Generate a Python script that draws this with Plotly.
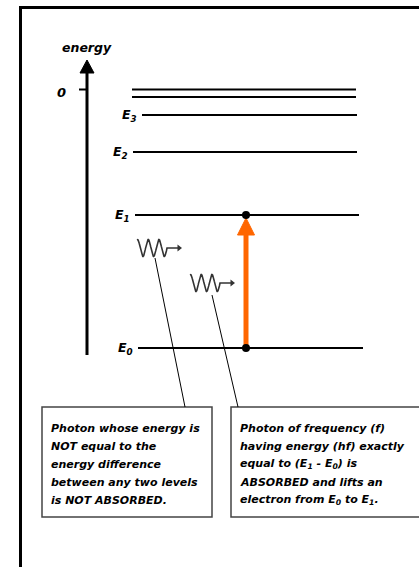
import numpy as np
import plotly.graph_objects as go

W, H = 419, 567

# ---- data (arbitrary energy units, increasing upward) ----
level_names = ["E<sub>0</sub>", "E<sub>1</sub>", "E<sub>2</sub>", "E<sub>3</sub>", "", ""]
level_energy = [219, 352, 415, 452, 470, 477.5]
level_x_start = [138, 135, 133, 142, 132, 132]
level_x_end = [363, 359, 357, 357, 356, 356]
zero_energy = 477.5
axis_bottom, axis_top = 212, 507
axis_x = 87

box_texts = [
    ["Photon whose energy is", "NOT equal to the", "energy difference",
     "between any two levels", "is NOT ABSORBED."],
    ["Photon of frequency (f)", "having energy (hf) exactly",
     "equal to (E<sub>1</sub> - E<sub>0</sub>) is", "ABSORBED and lifts an",
     "electron from E<sub>0</sub> to E<sub>1</sub>."],
]

FONT = "DejaVu Sans"
fig = go.Figure()

def Y(py):
    return H - py

# energy levels
for name, e, x0, x1 in zip(level_names, level_energy, level_x_start, level_x_end):
    fig.add_trace(go.Scatter(x=[x0, x1], y=[e, e], mode="lines",
                             line=dict(color="black", width=2), hoverinfo="skip"))
    if name:
        fig.add_annotation(x=x0 - 3, y=e, text="<b><i>" + name + "</i></b>", showarrow=False,
                           xanchor="right", yanchor="middle",
                           font=dict(family=FONT, size=12.5, color="black"))

# energy axis
fig.add_trace(go.Scatter(x=[axis_x, axis_x], y=[axis_bottom, axis_top - 12], mode="lines",
                         line=dict(color="black", width=3), hoverinfo="skip"))
fig.add_trace(go.Scatter(x=[axis_x - 7, axis_x + 7, axis_x, axis_x - 7],
                         y=[axis_top - 13, axis_top - 13, axis_top, axis_top - 13],
                         fill="toself", fillcolor="black", mode="lines",
                         line=dict(color="black", width=1), hoverinfo="skip"))
fig.add_trace(go.Scatter(x=[axis_x - 8, axis_x], y=[zero_energy, zero_energy], mode="lines",
                         line=dict(color="black", width=2), hoverinfo="skip"))
fig.add_annotation(x=axis_x - 26, y=zero_energy - 3, text="<b><i>0</i></b>", showarrow=False,
                   xanchor="center", yanchor="middle",
                   font=dict(family=FONT, size=13, color="black"))
fig.add_annotation(x=axis_x, y=Y(47), text="<b><i>energy</i></b>", showarrow=False,
                   xanchor="center", yanchor="middle",
                   font=dict(family=FONT, size=12.5, color="black"))

# absorption arrow E0 -> E1
ax = 246
e0, e1 = level_energy[0], level_energy[1]
orange = "#FF6600"
fig.add_trace(go.Scatter(x=[ax, ax], y=[e0, e1 - 18], mode="lines",
                         line=dict(color=orange, width=5), hoverinfo="skip"))
fig.add_trace(go.Scatter(x=[ax - 8.5, ax + 8.5, ax, ax - 8.5],
                         y=[e1 - 20, e1 - 20, e1 - 3, e1 - 20],
                         fill="toself", fillcolor=orange, mode="lines",
                         line=dict(color=orange, width=1), hoverinfo="skip"))
fig.add_trace(go.Scatter(x=[ax, ax], y=[e0, e1], mode="markers",
                         marker=dict(color="black", size=8), hoverinfo="skip"))

# photons (decorative squiggles)
def photon(x0, cy, wave_len=30, tail=15, amp=8.5):
    t = np.linspace(0, 2.8, 200)
    xs = x0 + t / 2.8 * wave_len
    ys = cy + amp * np.cos(2 * np.pi * (t - 0.05))
    xs = np.concatenate([xs, [x0 + wave_len + tail - 4]])
    ys = np.concatenate([ys, [cy]])
    fig.add_trace(go.Scatter(x=xs, y=ys, mode="lines",
                             line=dict(color="#333333", width=1.6), hoverinfo="skip"))
    fig.add_trace(go.Scatter(x=[x0 + wave_len + tail - 3], y=[cy], mode="markers",
                             marker=dict(symbol="triangle-right", size=6, color="#333333"),
                             hoverinfo="skip"))

photon(137, Y(248))
photon(190, Y(283))

# leader lines
fig.add_trace(go.Scatter(x=[155, 185], y=[Y(258), Y(407)], mode="lines",
                         line=dict(color="black", width=1), hoverinfo="skip"))
fig.add_trace(go.Scatter(x=[212, 238], y=[Y(295), Y(407)], mode="lines",
                         line=dict(color="black", width=1), hoverinfo="skip"))

# boxes
boxes = [(42, 212), (231, 440)]
shapes = []
for (bx0, bx1), lines in zip(boxes, box_texts):
    shapes.append(dict(type="rect", x0=bx0, x1=bx1, y0=Y(517), y1=Y(407),
                       line=dict(color="#444444", width=1.5), fillcolor="white", layer="below"))
    for i, ln in enumerate(lines):
        fig.add_annotation(x=bx0 + 7, y=Y(428 + 18 * i), text="<b><i>" + ln + "</i></b>",
                           showarrow=False, xanchor="left", yanchor="middle",
                           font=dict(family=FONT, size=11, color="black"))

# frame
shapes.append(dict(type="line", x0=19, x1=W + 5, y0=Y(7.5), y1=Y(7.5),
                   line=dict(color="black", width=3)))
shapes.append(dict(type="line", x0=20.5, x1=20.5, y0=Y(6), y1=-5,
                   line=dict(color="black", width=3)))

fig.update_layout(
    width=W, height=H, margin=dict(l=0, r=0, t=0, b=0),
    paper_bgcolor="white", plot_bgcolor="white", showlegend=False,
    xaxis=dict(range=[0, W], visible=False, fixedrange=True),
    yaxis=dict(range=[0, H], visible=False, fixedrange=True),
    shapes=shapes, hovermode=False,
)
fig.write_html("out.html", config={"displayModeBar": False, "staticPlot": True},
               post_script="document.body.style.margin='0';document.body.style.overflow='hidden';")
